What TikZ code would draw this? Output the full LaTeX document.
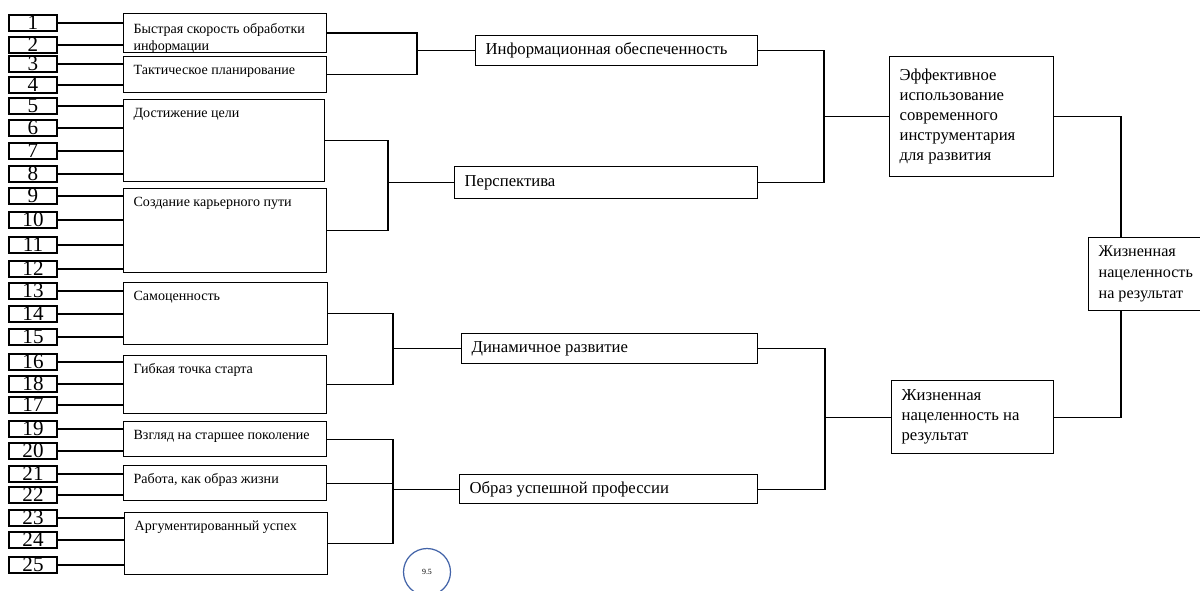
\documentclass[tikz,border=0pt]{standalone}
\usepackage{fontspec}
\setmainfont{Liberation Serif}
\definecolor{circblue}{RGB}{66,99,168}

\begin{document}
\begin{tikzpicture}[x=0.02cm, y=-0.02cm, line width=0.7pt,
    num/.style={draw, minimum width=0.96cm, minimum height=0.32cm, inner sep=0pt, font=\fontsize{12}{12}\selectfont},
    box/.style 2 args={draw, anchor=north west, minimum width=#1*0.02cm, minimum height=#2*0.02cm, inner sep=0pt},
    small/.style={anchor=base west, inner sep=0pt, align=left, xshift=0.2cm, yshift=-0.38cm, font=\fontsize{8}{9.5}\selectfont},
    mid/.style={anchor=west, inner sep=0pt, xshift=0.2cm, font=\fontsize{9.5}{11}\selectfont},
    big/.style={anchor=west, inner sep=0pt, align=left, xshift=0.2cm, font=\fontsize{9.5}{11.4}\selectfont}]
  \useasboundingbox (0,0) rectangle (1200,591);
  \clip (0,0) rectangle (1200,591);

  % first level
  \node[box={203}{39}, label={[small, yshift=-0.37cm]north west:{Быстрая скорость обработки\\информации}}] (speed) at (123,13) {};
  \node[box={203}{36}, label={[small]north west:{Тактическое планирование}}] (tactic) at (123,56) {};
  \node[box={201}{82}, label={[small]north west:{Достижение цели}}] (goal) at (123,99) {};
  \node[box={203}{84}, label={[small]north west:{Создание карьерного пути}}] (career) at (123,188) {};
  \node[box={204}{62}, label={[small]north west:{Самоценность}}] (selfw) at (123,282) {};
  \node[box={203}{58}, label={[small]north west:{Гибкая точка старта}}] (start) at (123,355) {};
  \node[box={203}{35}, label={[small]north west:{Взгляд на старшее поколение}}] (elder) at (123,421) {};
  \node[box={203}{35}, label={[small]north west:{Работа, как образ жизни}}] (work) at (123,465) {};
  \node[box={203}{62}, label={[small]north west:{Аргументированный успех}}] (success) at (124,512) {};

  % numbers
  \foreach \n/\t in {1/15,2/37,3/56,4/77,5/98,6/120,7/143,8/166,9/188,10/212,11/237,12/261,13/283,
      14/306,15/329,16/354,18/376,17/397,19/421,20/443,21/466,22/487,23/510,24/532,25/557}
    \node[num] (n\n) at (33,\t+8) {\n};
  \foreach \n/\b in {1/speed,2/speed,3/tactic,4/tactic,5/goal,6/goal,7/goal,8/goal,9/career,10/career,
      11/career,12/career,13/selfw,14/selfw,15/selfw,16/start,18/start,17/start,19/elder,20/elder,
      21/work,22/work,23/success,24/success,25/success}
    \draw (n\n.east) -- (n\n.east -| \b.west);

  % second level
  \node[box={282}{30}, label={[mid]west:{Информационная обеспеченность}}] (info) at (475,35) {};
  \node[box={303}{32}, label={[mid]west:{Перспектива}}] (persp) at (454,166) {};
  \node[box={296}{30}, label={[mid]west:{Динамичное развитие}}] (dyn) at (461,333) {};
  \node[box={298}{29}, label={[mid]west:{Образ успешной профессии}}] (image) at (459,474) {};

  % third level
  \node[box={164}{120}, label={[big]west:{Эффективное\\использование\\современного\\инструментария\\для развития}}] (tools) at (889,56) {};
  \node[box={162}{73}, label={[big]west:{Жизненная\\нацеленность на\\результат}}] (aimlow) at (891,380) {};
  \node[box={130}{73}, label={[big, font=\fontsize{9.2}{12}\selectfont]west:{Жизненная\\нацеленность\\на результат}}] (aim) at (1088,237) {};

  \node[draw=circblue, circle, minimum size=0.94cm, inner sep=0pt, font=\fontsize{4.5}{5}\selectfont] (pg) at (427,572) {9.5};

  % brackets
  \coordinate (j1) at (417,0);
  \coordinate (j2) at (388,0);
  \coordinate (j3) at (824,0);
  \coordinate (j4) at (393,0);
  \coordinate (j5) at (393,0);
  \coordinate (j6) at (825,0);
  \coordinate (k) at (1121,0);

  \draw (speed.east) -- (speed.east -| j1) -- (tactic.east -| j1) -- (tactic.east);
  \draw (j1 |- info.west) -- (info.west);

  \draw (goal.east) -- (goal.east -| j2) -- (career.east -| j2) -- (career.east);
  \draw (j2 |- persp.west) -- (persp.west);

  \draw (selfw.east) -- (selfw.east -| j4) -- (start.east -| j4) -- (start.east);
  \draw (j4 |- dyn.west) -- (dyn.west);

  \draw (elder.east) -- (elder.east -| j5) -- (success.east -| j5) -- (success.east);
  \draw (work.east) -- (work.east -| j5);
  \draw (j5 |- image.west) -- (image.west);

  \draw (info.east) -- (info.east -| j3) -- (persp.east -| j3) -- (persp.east);
  \draw (j3 |- tools.west) -- (tools.west);

  \draw (dyn.east) -- (dyn.east -| j6) -- (image.east -| j6) -- (image.east);
  \draw (j6 |- aimlow.west) -- (aimlow.west);

  \draw (tools.east) -| (k |- aim.north);
  \draw (aimlow.east) -| (k |- aim.south);
\end{tikzpicture}
\end{document}
